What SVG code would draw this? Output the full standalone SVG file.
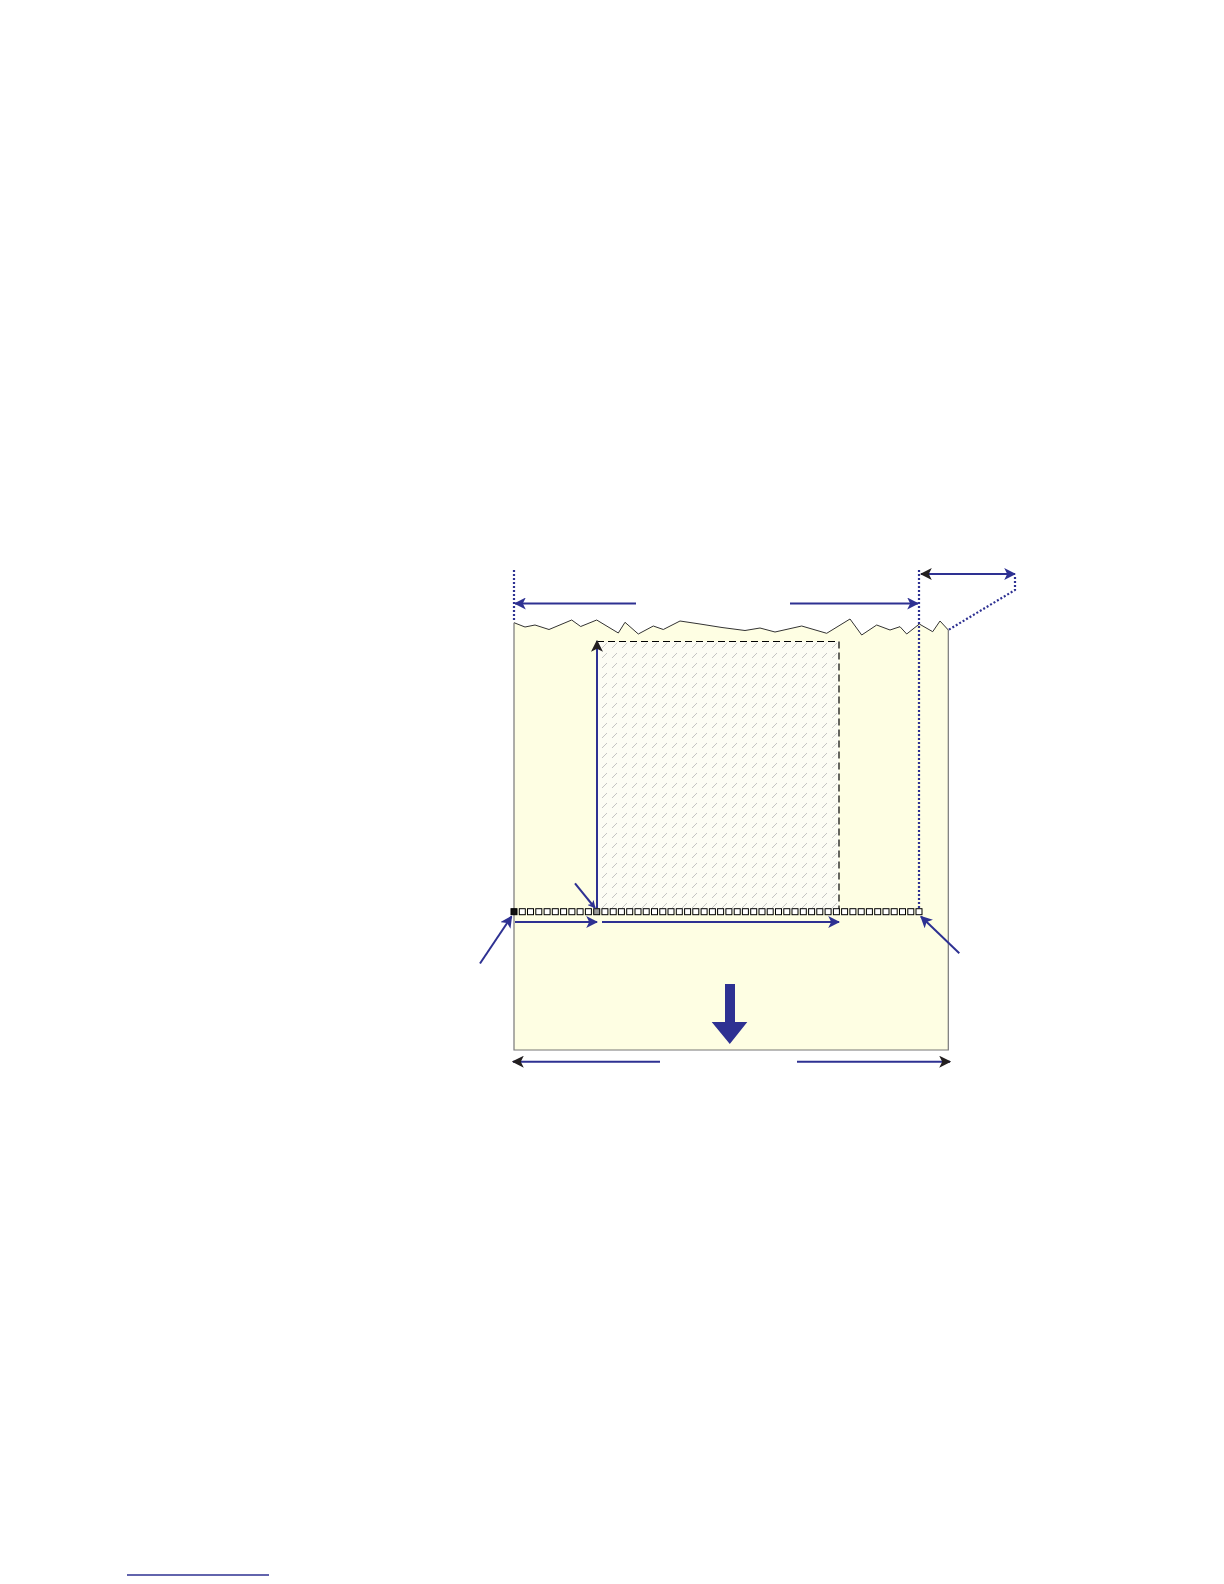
<svg xmlns="http://www.w3.org/2000/svg" width="1224" height="1584" viewBox="0 0 1224 1584">
<style>
.dim{stroke:#2E3192;stroke-width:2;fill:none}
.dot{stroke:#2E3192;stroke-width:2.2;fill:none;stroke-dasharray:2,2}
.sq{fill:#fff;stroke:#000;stroke-width:1}
</style>
<defs>
<marker id="ah" viewBox="0 0 10 10" refX="9" refY="5" markerWidth="8" markerHeight="8" orient="auto-start-reverse" markerUnits="userSpaceOnUse"><path d="M0,0 L10,5 L0,10 L2.5,5 z" fill="#2E3192"/></marker>
<marker id="ahb" viewBox="0 0 10 10" refX="9" refY="5" markerWidth="12" markerHeight="12" orient="auto-start-reverse" markerUnits="userSpaceOnUse"><path d="M0,0 L10,5 L0,10 L2.5,5 z" fill="#2E3192"/></marker>
<marker id="ahbk" viewBox="0 0 10 10" refX="9" refY="5" markerWidth="12" markerHeight="12" orient="auto-start-reverse" markerUnits="userSpaceOnUse"><path d="M0,0 L10,5 L0,10 L2.5,5 z" fill="#231F20"/></marker>
<pattern id="hatch" width="10" height="10" patternUnits="userSpaceOnUse"><line x1="2" y1="8" x2="7" y2="3" stroke="#bdbdbd" stroke-width="0.9"/></pattern>
</defs>
<rect width="1224" height="1584" fill="#fff"/>
<g id="paper">
<path d="M514,622.7 L525,627 L535,625 L549,629.5 L571.7,620 L580.7,626.5 L596.7,620 L618.3,633 L625,622.3 L638.3,634 L653.3,626 L663.3,629.5 L680,621 L700,624 L722,627.5 L745,630.5 L760,628 L775,632 L801.7,626 L826.7,633.3 L850,619 L861.7,635 L876.7,625 L890,630 L900,626.7 L906.7,634 L919.3,624 L932.7,631.7 L940,621 L948.3,630 L948.3,1050 L514,1050 Z" fill="#FEFEE3" stroke="none"/>
<path d="M514,622.7 L525,627 L535,625 L549,629.5 L571.7,620 L580.7,626.5 L596.7,620 L618.3,633 L625,622.3 L638.3,634 L653.3,626 L663.3,629.5 L680,621 L700,624 L722,627.5 L745,630.5 L760,628 L775,632 L801.7,626 L826.7,633.3 L850,619 L861.7,635 L876.7,625 L890,630 L900,626.7 L906.7,634 L919.3,624 L932.7,631.7 L940,621 L948.3,630" fill="none" stroke="#333" stroke-width="1"/>
<path d="M514,622.7 V1050 H948.3 V630" fill="none" stroke="#777" stroke-width="1.2"/>
</g>
<g id="print-area">
<rect x="597" y="641.5" width="242" height="270" fill="#FCFCF4"/>
<rect x="597" y="641.5" width="242" height="270" fill="url(#hatch)"/>
<path d="M597,641.5 H839 V911" fill="none" stroke="#000" stroke-width="1.2" stroke-dasharray="7,4"/>
</g>
<g id="dot-row">
<rect x="511" y="908.7" width="6" height="6" fill="#111" stroke="#000" stroke-width="1"/>
<rect class="sq" x="519.3" y="908.7" width="6" height="6"/>
<rect class="sq" x="527.5" y="908.7" width="6" height="6"/>
<rect class="sq" x="535.8" y="908.7" width="6" height="6"/>
<rect class="sq" x="544.1" y="908.7" width="6" height="6"/>
<rect class="sq" x="552.3" y="908.7" width="6" height="6"/>
<rect class="sq" x="560.6" y="908.7" width="6" height="6"/>
<rect class="sq" x="568.9" y="908.7" width="6" height="6"/>
<rect class="sq" x="577.1" y="908.7" width="6" height="6"/>
<rect class="sq" x="585.4" y="908.7" width="6" height="6"/>
<rect x="593.7" y="908.7" width="6" height="6" fill="#999" stroke="#000" stroke-width="1"/>
<rect class="sq" x="601.9" y="908.7" width="6" height="6"/>
<rect class="sq" x="610.2" y="908.7" width="6" height="6"/>
<rect class="sq" x="618.4" y="908.7" width="6" height="6"/>
<rect class="sq" x="626.7" y="908.7" width="6" height="6"/>
<rect class="sq" x="635.0" y="908.7" width="6" height="6"/>
<rect class="sq" x="643.2" y="908.7" width="6" height="6"/>
<rect class="sq" x="651.5" y="908.7" width="6" height="6"/>
<rect class="sq" x="659.8" y="908.7" width="6" height="6"/>
<rect class="sq" x="668.0" y="908.7" width="6" height="6"/>
<rect class="sq" x="676.3" y="908.7" width="6" height="6"/>
<rect class="sq" x="684.6" y="908.7" width="6" height="6"/>
<rect class="sq" x="692.8" y="908.7" width="6" height="6"/>
<rect class="sq" x="701.1" y="908.7" width="6" height="6"/>
<rect class="sq" x="709.4" y="908.7" width="6" height="6"/>
<rect class="sq" x="717.6" y="908.7" width="6" height="6"/>
<rect class="sq" x="725.9" y="908.7" width="6" height="6"/>
<rect class="sq" x="734.2" y="908.7" width="6" height="6"/>
<rect class="sq" x="742.4" y="908.7" width="6" height="6"/>
<rect class="sq" x="750.7" y="908.7" width="6" height="6"/>
<rect class="sq" x="759.0" y="908.7" width="6" height="6"/>
<rect class="sq" x="767.2" y="908.7" width="6" height="6"/>
<rect class="sq" x="775.5" y="908.7" width="6" height="6"/>
<rect class="sq" x="783.8" y="908.7" width="6" height="6"/>
<rect class="sq" x="792.0" y="908.7" width="6" height="6"/>
<rect class="sq" x="800.3" y="908.7" width="6" height="6"/>
<rect class="sq" x="808.6" y="908.7" width="6" height="6"/>
<rect class="sq" x="816.8" y="908.7" width="6" height="6"/>
<rect class="sq" x="825.1" y="908.7" width="6" height="6"/>
<rect class="sq" x="833.4" y="908.7" width="6" height="6"/>
<rect class="sq" x="841.6" y="908.7" width="6" height="6"/>
<rect class="sq" x="849.9" y="908.7" width="6" height="6"/>
<rect class="sq" x="858.2" y="908.7" width="6" height="6"/>
<rect class="sq" x="866.4" y="908.7" width="6" height="6"/>
<rect class="sq" x="874.7" y="908.7" width="6" height="6"/>
<rect class="sq" x="883.0" y="908.7" width="6" height="6"/>
<rect class="sq" x="891.2" y="908.7" width="6" height="6"/>
<rect class="sq" x="899.5" y="908.7" width="6" height="6"/>
<rect class="sq" x="907.8" y="908.7" width="6" height="6"/>
<rect class="sq" x="916.0" y="908.7" width="6" height="6"/>
</g>
<g id="connectors">
<line class="dot" x1="514" y1="570" x2="514" y2="622"/>
<line class="dot" x1="919" y1="570" x2="919" y2="908"/>
<polyline class="dot" points="1015,577 1015,590 948.3,630"/>
<line class="dim" x1="636" y1="603.5" x2="515" y2="603.5" marker-end="url(#ahb)"/>
<line class="dim" x1="790" y1="603.5" x2="918" y2="603.5" marker-end="url(#ahb)"/>
<line class="dim" x1="921" y1="574" x2="1015" y2="574" marker-start="url(#ahbk)" marker-end="url(#ahb)"/>
<line class="dim" x1="597" y1="908" x2="597" y2="641" marker-end="url(#ahbk)"/>
<line class="dim" x1="515" y1="922" x2="597" y2="922" marker-end="url(#ahb)"/>
<line class="dim" x1="602" y1="922" x2="839" y2="922" marker-end="url(#ahb)"/>
<line class="dim" x1="660" y1="1061.7" x2="513" y2="1061.7" marker-end="url(#ahbk)"/>
<line class="dim" x1="797" y1="1061.7" x2="950" y2="1061.7" marker-end="url(#ahbk)"/>
<line class="dim" stroke-width="1.5" x1="480" y1="963.5" x2="511.5" y2="916.5" marker-end="url(#ahb)"/>
<line class="dim" stroke-width="1.5" x1="575" y1="883.3" x2="595" y2="908" marker-end="url(#ah)"/>
<line class="dim" stroke-width="1.5" x1="959.3" y1="953.3" x2="921" y2="916.5" marker-end="url(#ahb)"/>
<path d="M725,984 H735 V1022 H747.3 L729.8,1044 L711.7,1022 H725 Z" fill="#2E3192"/>
</g>
<line x1="127" y1="1575" x2="269" y2="1575" stroke="#2E3192" stroke-width="1.5"/>
</svg>
